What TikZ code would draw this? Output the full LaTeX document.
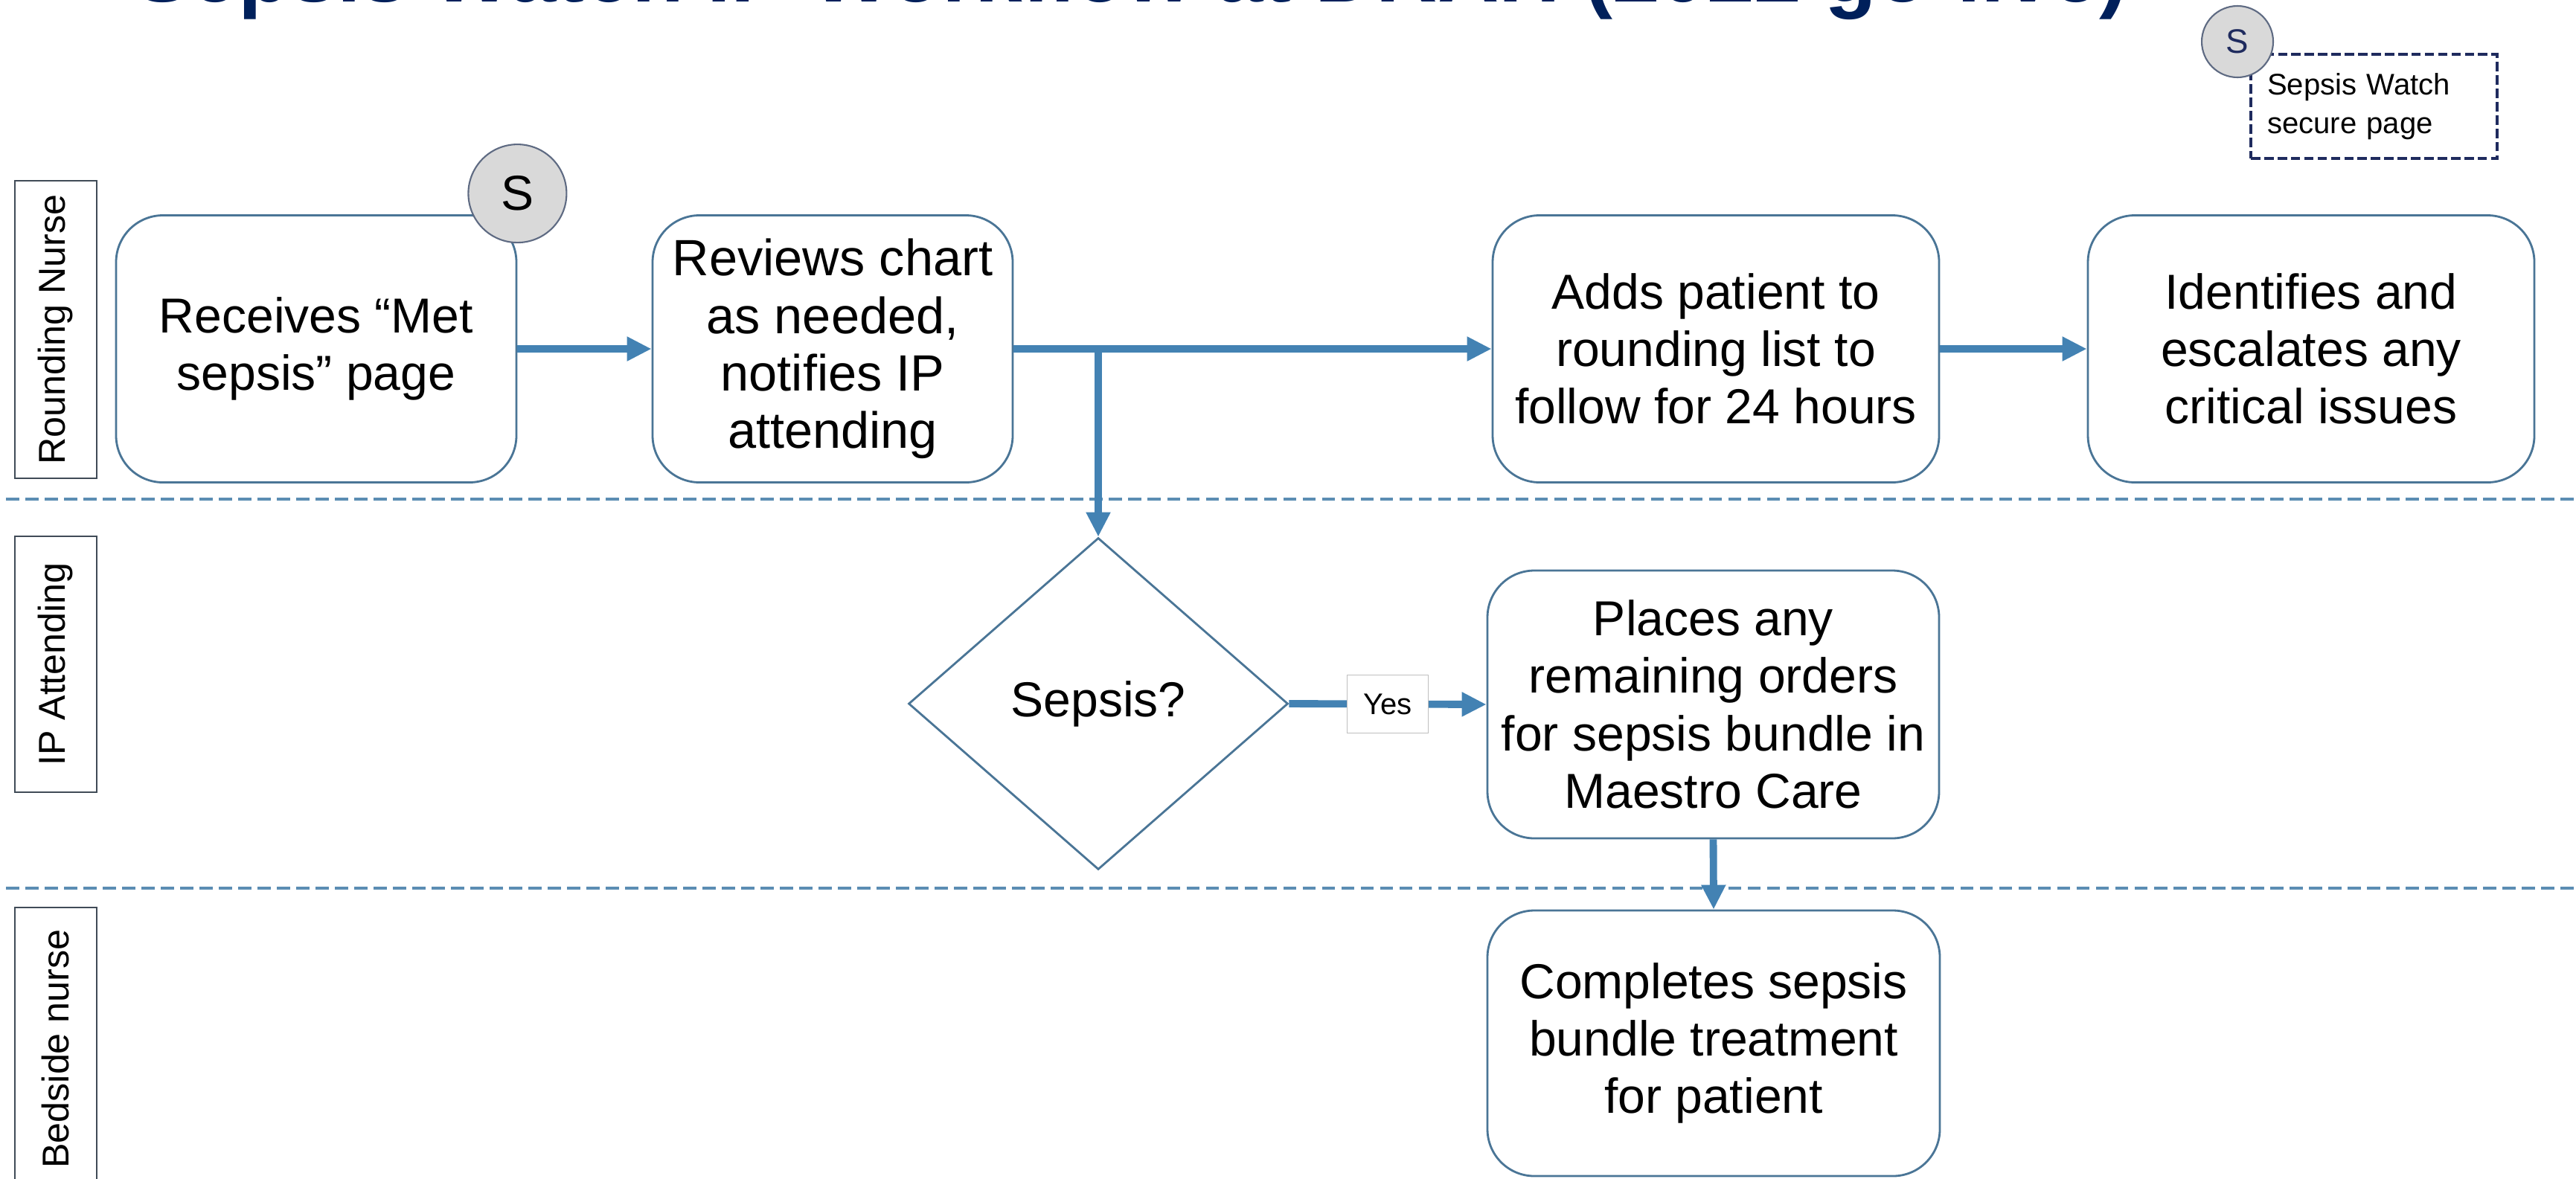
\documentclass[tikz,border=0pt]{standalone}
\usepackage{fontspec}
\setmainfont{Liberation Sans}
\usetikzlibrary{shapes.geometric, arrows.meta}
\definecolor{FlowBlue}{HTML}{4382B3}
\definecolor{LaneBlue}{HTML}{5B8DB3}
\definecolor{BoxEdge}{HTML}{4A7596}
\definecolor{RoleEdge}{HTML}{404B57}
\definecolor{TitleNavy}{HTML}{00205B}
\definecolor{BadgeGray}{HTML}{D9D9D9}
\definecolor{BadgeEdge}{HTML}{5E6A82}
\definecolor{LegendNavy}{HTML}{1F2B5E}

\begin{document}
\begin{tikzpicture}[
    task/.style={draw=BoxEdge, line width=0.8pt, fill=white, rounded corners=0.63cm,
        minimum width=6.0cm, minimum height=3.59cm, align=center, inner sep=0pt,
        font=\fontsize{18.8pt}{22pt}\selectfont},
    role/.style={draw=RoleEdge, line width=0.7pt, rotate=90, minimum height=1.1cm,
        inner sep=0pt, font=\fontsize{14.3pt}{17pt}\selectfont},
    decision/.style={diamond, draw=BoxEdge, line width=0.8pt, fill=white, minimum width=5.1cm,
        minimum height=4.46cm, inner sep=0pt, font=\fontsize{18.8pt}{22pt}\selectfont},
    badge/.style={circle, draw=BadgeEdge, line width=0.6pt, fill=BadgeGray, inner sep=0pt},
    flow/.style={-{Triangle[length=9.4pt, width=8.8pt]}, line width=2.8pt, FlowBlue},
    lane/.style={LaneBlue, line width=1.2pt, dash pattern=on 5pt off 2.4pt},
    yeslbl/.style={draw=black!25, fill=white, text=black, line width=0.5pt, minimum width=1.09cm,
        minimum height=0.78cm, inner sep=0pt, font=\fontsize{11.4pt}{13pt}\selectfont}
]
    \useasboundingbox (0,0) rectangle (34.62,-15.84);

    % Title (cut by the top edge)
    \node[anchor=base west, inner sep=0pt, TitleNavy,
          font=\bfseries\fontsize{32.5pt}{36pt}\selectfont] (title) at (1.8,-0.02)
          {Sepsis Watch IP Workflow at DRAH (2022 go-live)};

    % Lane borders
    \draw[lane] (0.08,-6.71) -- (34.62,-6.71);
    \draw[lane] (0.08,-11.94) -- (34.62,-11.94);

    % Lane labels
    \node[role, minimum width=4.0cm] (rn) at (0.75,-4.43) {Rounding Nurse};
    \node[role, minimum width=3.44cm] (ipa) at (0.75,-8.93) {IP Attending};
    \node[role, minimum width=3.8cm] (bsn) at (0.75,-14.1) {Bedside nurse};

    % Rounding nurse lane
    \node[task, minimum width=5.38cm] (receive) at (4.25,-4.69) {Receives “Met\\sepsis” page};
    \node[task, minimum width=4.84cm, font=\fontsize{19.5pt}{22pt}\selectfont] (review) at (11.19,-4.69)
        {Reviews chart\\as needed,\\notifies IP\\attending};
    \node[task] (addlist) at (23.06,-4.69) {Adds patient to\\rounding list to\\follow for 24 hours};
    \node[task] (escalate) at (31.06,-4.69) {Identifies and\\escalates any\\critical issues};
    \node[badge, minimum size=1.32cm, font=\fontsize{18.8pt}{22pt}\selectfont]
        (spage) at ([yshift=0.28cm]receive.north east) {S};

    % IP attending lane
    \node[decision] (decide) at (14.76,-9.46) {Sepsis?};
    \node[task, minimum width=6.07cm, minimum height=3.6cm] (orders) at (23.025,-9.47)
        {Places any\\remaining orders\\for sepsis bundle in\\Maestro Care};

    % Bedside nurse lane
    \node[task, minimum width=6.08cm, minimum height=3.57cm] (complete) at (23.03,-14.025)
        {Completes sepsis\\bundle treatment\\for patient};

    % Arrows
    \draw[flow] (receive.east) -- (review.west);
    \draw[flow] (review.east) -- (addlist.west);
    \draw[flow] (review.east -| decide.north) -- (decide.north);
    \draw[flow] (addlist.east) -- (escalate.west);
    \draw[flow] (decide.east) -- node[yeslbl] (yes) {Yes} (orders.west);
    \draw[flow] (orders.south) -- (complete.north);

    % Legend
    \node[draw=LegendNavy, line width=1pt, dash pattern=on 3.6pt off 1.5pt, fill=white,
          text width=2.87cm, inner xsep=0.22cm, minimum height=1.4cm, align=left,
          font=\fontsize{11.4pt}{15pt}\selectfont] (legbox) at (31.905,-1.43)
          {Sepsis Watch\\secure page};
    \node[badge, minimum size=0.96cm, text=LegendNavy, font=\fontsize{13pt}{15pt}\selectfont]
        (legs) at (30.07,-0.56) {S};
\end{tikzpicture}
\end{document}
